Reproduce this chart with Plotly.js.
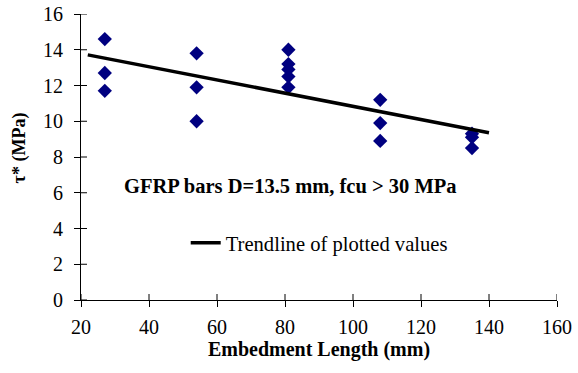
<!DOCTYPE html>
<html><head><meta charset="utf-8">
<script src="https://cdn.plot.ly/plotly-3.0.1.min.js"></script>
<style>body{margin:0;background:#fff}#c{width:578px;height:373px}</style>
</head><body><div id="c"></div>
<script>
// Data
const embedLength = [27,27,27, 54,54,54, 81,81,81,81,81, 108,108,108, 135,135,135];
const tauStar     = [14.6,12.7,11.7, 13.8,11.9,10.0, 14.0,13.2,12.9,12.5,11.9, 11.2,9.9,8.9, 9.3,9.1,8.5];
const trendRange  = [22, 140];
const xTicks = [20,40,60,80,100,120,140,160];
const yTicks = [0,2,4,6,8,10,12,14,16];

// least-squares trendline computed from the data
const n = embedLength.length;
const mx = embedLength.reduce((a,b)=>a+b,0)/n;
const my = tauStar.reduce((a,b)=>a+b,0)/n;
let sxy=0, sxx=0;
for(let i=0;i<n;i++){sxy+=(embedLength[i]-mx)*(tauStar[i]-my);sxx+=(embedLength[i]-mx)**2;}
const slope = sxy/sxx, icpt = my - slope*mx;
const trendY = trendRange.map(x=>icpt+slope*x);

const FAM = 'Liberation Serif, Times New Roman, serif';
const W = 578, H = 373, M = {l:81, r:21, t:14, b:73};
const pw = W - M.l - M.r, ph = H - M.t - M.b, TL = 6;

const data = [
  {x:embedLength, y:tauStar, type:'scatter', mode:'markers', showlegend:false,
   marker:{symbol:'diamond', size:11, color:'#000080'}},
  {x:trendRange, y:trendY, type:'scatter', mode:'lines', name:'Trendline of plotted values',
   line:{color:'#000', width:3.5}}
];
// inner halves of the crossing tick marks
const shapes = [];
xTicks.forEach(v=>shapes.push({type:'line', xref:'x', yref:'paper', x0:v, x1:v, y0:0, y1:TL/ph,
  line:{color:'#000', width:1}}));
yTicks.forEach(v=>shapes.push({type:'line', xref:'paper', yref:'y', x0:0, x1:TL/pw, y0:v, y1:v,
  line:{color:'#000', width:1}}));

const axBase = {showgrid:false, zeroline:false, showline:true, linecolor:'#000', linewidth:1,
  ticks:'outside', ticklen:TL, tickcolor:'#000', tickwidth:1, tickmode:'array'};
const layout = {
  width:W, height:H, margin:M,
  paper_bgcolor:'#fff', plot_bgcolor:'#fff',
  font:{family:FAM, size:20, color:'#000'},
  xaxis:Object.assign({}, axBase, {range:[20,160], tickvals:xTicks, ticktext:xTicks.map(String),
    tickfont:{family:FAM, size:20}, ticklabelstandoff:3,
    title:{text:'<b>Embedment Length (mm)</b>', font:{family:FAM, size:20}, standoff:4}}),
  yaxis:Object.assign({}, axBase, {range:[0,16], tickvals:yTicks, ticktext:yTicks.map(String),
    tickfont:{family:FAM, size:20}, ticklabelstandoff:7,
    title:{text:'&nbsp;&nbsp;&nbsp;&nbsp;<b>τ* (MPa)</b>', font:{family:FAM, size:18}, standoff:12}}),
  shapes:shapes,
  showlegend:true,
  legend:{x:0.22, y:0.2, xanchor:'left', yanchor:'middle', bgcolor:'rgba(0,0,0,0)',
    font:{family:FAM, size:20.6}},
  annotations:[{xref:'paper', yref:'paper', x:0.44, y:0.398, xanchor:'center', yanchor:'middle',
    text:'<b>GFRP bars D=13.5 mm, fcu &gt; 30 MPa</b>', showarrow:false, font:{family:FAM, size:20.5}}]
};
Plotly.newPlot('c', data, layout, {staticPlot:true});
</script></body></html>
